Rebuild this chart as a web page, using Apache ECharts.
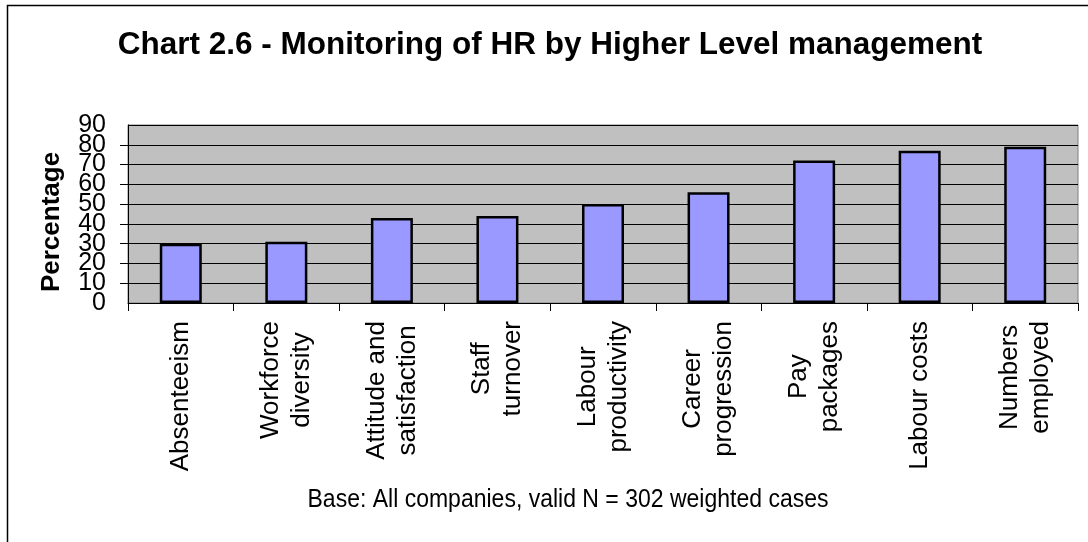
<!DOCTYPE html>
<html>
<head>
<meta charset="utf-8">
<style>
  html, body { margin: 0; padding: 0; background: #fff; }
  #chart { width: 1088px; height: 542px; }
</style>
<script src="https://cdn.jsdelivr.net/npm/echarts@6/dist/echarts.min.js"></script>
</head>
<body>
<div id="chart"></div>
<script>
// --- Data ---
const categories = [
  "Absenteeism",
  "Workforce\ndiversity",
  "Attitude and\nsatisfaction",
  "Staff\nturnover",
  "Labour\nproductivity",
  "Career\nprogression",
  "Pay\npackages",
  "Labour costs",
  "Numbers\nemployed",
];
const percentages = [30, 31, 43, 44, 50, 56, 72, 77, 79];
const yTicks = { min: 0, max: 90, step: 10 };

const FONT = "Liberation Sans, Arial, sans-serif";

const chart = echarts.init(document.getElementById("chart"), null, { renderer: "canvas" });

// The tick labels are packed so tightly that ECharts drops the neighbours of
// 0 and 90; split them over two identical left axes so every label shows.
const yLabelStyle = { margin: 22, color: "#000", fontFamily: FONT, fontSize: 25 };
const isEnd = (v) => v === yTicks.min || v === yTicks.max;

chart.setOption({
  animation: false,
  backgroundColor: "#ffffff",
  grid: {
    left: 128, right: 10, top: 125, bottom: 239,
    show: true,
    backgroundColor: "#C0C0C0",
    borderColor: "#808080",
    borderWidth: 1,
  },
  xAxis: {
    type: "category",
    data: categories,
    boundaryGap: true,
    axisLine: { lineStyle: { color: "#000", width: 1 } },
    axisTick: { show: true, interval: 0, length: 8, lineStyle: { color: "#000" } },
    axisLabel: {
      interval: 0,
      rotate: 90,
      margin: 18,
      color: "#000",
      fontFamily: FONT,
      fontSize: 26,
      lineHeight: 31,
      // centre each line inside the rotated block
      formatter: (v) => v.split("\n").map((s) => "{c|" + s + "}").join("\n"),
      rich: { c: { align: "center", fontSize: 26, lineHeight: 31, fontFamily: FONT, color: "#000" } },
    },
  },
  yAxis: [
    {
      type: "value",
      position: "left",
      min: yTicks.min,
      max: yTicks.max,
      interval: yTicks.step,
      axisLine: { show: true, lineStyle: { color: "#000", width: 1 } },
      axisTick: { show: true, length: 8, lineStyle: { color: "#000" } },
      axisLabel: { ...yLabelStyle, showMinLabel: false, showMaxLabel: false },
      splitLine: { show: true, lineStyle: { color: "#000", width: 1 } },
    },
    {
      type: "value",
      position: "left",
      offset: 0,
      min: yTicks.min,
      max: yTicks.max,
      interval: yTicks.step,
      axisLine: { show: false },
      axisTick: { show: false },
      splitLine: { show: false },
      axisLabel: { ...yLabelStyle, formatter: (v) => (isEnd(v) ? String(v) : "") },
    },
  ],
  series: [
    {
      type: "bar",
      data: percentages,
      yAxisIndex: 0,
      barWidth: 42,
      itemStyle: { color: "#9999FF", borderColor: "#000", borderWidth: 2.5 },
    },
  ],
  graphic: [
    // outer frame (right/bottom edges fall outside the picture)
    {
      type: "rect",
      shape: { x: 7.5, y: 5.5, width: 1200, height: 800 },
      style: { fill: null, stroke: "#000", lineWidth: 1.5 },
      silent: true,
      z: -1,
    },
    {
      type: "text",
      x: 550, y: 45,
      style: {
        text: "Chart 2.6 - Monitoring of HR by Higher Level management",
        font: "bold 31.5px " + FONT,
        fill: "#000",
        textAlign: "center",
        textVerticalAlign: "middle",
      },
    },
    {
      type: "text",
      x: 52, y: 222,
      rotation: Math.PI / 2,
      style: {
        text: "Percentage",
        font: "bold 26px " + FONT,
        fill: "#000",
        textAlign: "center",
        textVerticalAlign: "middle",
      },
    },
    {
      type: "text",
      x: 568, y: 500,
      scaleY: 1.15,
      style: {
        text: "Base: All companies, valid N = 302 weighted cases",
        font: "23px " + FONT,
        fill: "#000",
        textAlign: "center",
        textVerticalAlign: "middle",
      },
    },
  ],
});
</script>
</body>
</html>
